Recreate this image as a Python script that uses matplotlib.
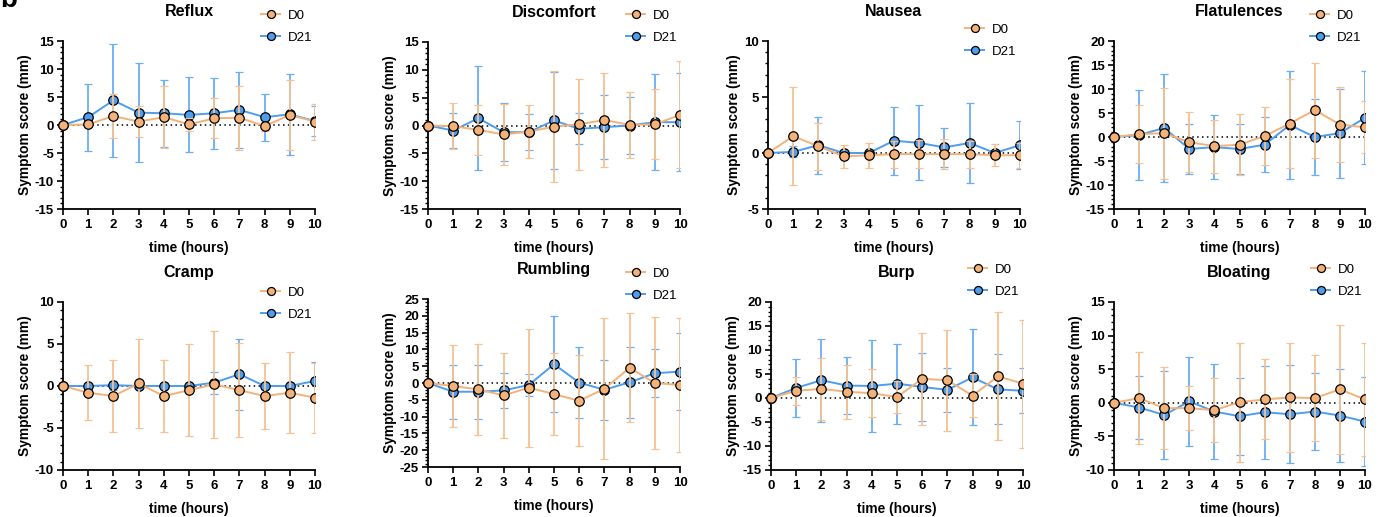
import matplotlib
matplotlib.use("Agg")
import matplotlib.pyplot as plt
from matplotlib.patches import Rectangle
from matplotlib.ticker import MultipleLocator

plt.rcParams['font.family'] = ['Liberation Sans', 'DejaVu Sans']
plt.rcParams['axes.unicode_minus'] = False

# =========================
# DATA (mean and SD per hour)
# =========================

hours = [0, 1, 2, 3, 4, 5, 6, 7, 8, 9, 10]

reflux_d0 = [0, 0.1, 1.6, 0.6, 1.4, 0.1, 1.2, 1.3, -0.2, 1.8, 0.6]
reflux_d0_sd = [0, 0.4, 3.9, 2.75, 5.5, 1.1, 3.6, 5.7, 0.8, 6.2, 3.2]
reflux_d21 = [0, 1.4, 4.4, 2.2, 2.1, 1.8, 2.1, 2.7, 1.4, 1.9, 0.7]
reflux_d21_sd = [0, 6.0, 10.1, 8.8, 6.0, 6.7, 6.3, 6.8, 4.2, 7.2, 2.7]

discomfort_d0 = [0, -0.1, -0.8, -1.6, -1.1, -0.2, 0.2, 1.0, 0.1, 0.2, 1.9]
discomfort_d0_sd = [0, 4.1, 4.5, 5.5, 4.8, 10.0, 8.2, 8.4, 6.0, 6.3, 9.6]
discomfort_d21 = [0, -0.9, 1.3, -1.2, -1.2, 0.9, -0.6, -0.3, 0, 0.6, 0.6]
discomfort_d21_sd = [0, 3.2, 9.3, 5.2, 3.2, 8.8, 2.8, 5.7, 5.2, 8.6, 8.8]

nausea_d0 = [0, 1.5, 0.6, -0.3, -0.2, -0.1, -0.1, -0.1, -0.1, -0.2, -0.2]
nausea_d0_sd = [0, 4.4, 2.1, 1.0, 1.1, 1.2, 1.25, 1.35, 1.2, 1.0, 1.1]
nausea_d21 = [0, 0.1, 0.7, 0, 0, 1.1, 0.9, 0.5, 0.9, 0, 0.7]
nausea_d21_sd = [0, 0.5, 2.55, 0, 0, 3.05, 3.35, 1.75, 3.6, 0, 2.15]

flatulences_d0 = [0, 0.6, 0.8, -1.1, -1.9, -1.6, 0.2, 2.8, 5.6, 2.6, 2.0]
flatulences_d0_sd = [0, 6.0, 9.45, 6.25, 5.5, 6.4, 6.1, 9.2, 9.9, 7.9, 5.4]
flatulences_d21 = [0, 0.4, 1.9, -2.5, -2.1, -2.5, -1.6, 2.5, 0, 0.8, 4.0]
flatulences_d21_sd = [0, 9.45, 11.2, 5.3, 6.7, 5.3, 5.75, 11.2, 7.85, 9.25, 9.7]

cramp_d0 = [0, -0.8, -1.2, 0.3, -1.2, -0.5, 0.2, -0.5, -1.2, -0.8, -1.4]
cramp_d0_sd = [0, 3.3, 4.25, 5.35, 4.25, 5.5, 6.35, 5.6, 3.9, 4.8, 4.15]
cramp_d21 = [0, 0, 0.1, 0, 0, 0, 0.4, 1.4, 0, 0, 0.6]
cramp_d21_sd = [0, 0, 0.55, 0, 0, 0, 1.3, 4.2, 0, 0, 2.3]

rumbling_d0 = [0, -0.9, -1.9, -3.7, -1.4, -3.3, -5.3, -1.7, 4.5, 0, -0.6]
rumbling_d0_sd = [0, 12.2, 13.5, 12.75, 17.6, 12.1, 13.55, 21.0, 16.2, 19.5, 19.9]
rumbling_d21 = [0, -2.6, -2.6, -2.2, -0.6, 5.6, 0.1, -2.0, 0.2, 2.9, 3.4]
rumbling_d21_sd = [0, 8.1, 8.1, 5.3, 3.15, 14.3, 10.65, 8.95, 10.5, 7.2, 11.55]

burp_d0 = [0, 1.5, 1.9, 1.3, 1.0, 0.2, 4.0, 3.7, 0.5, 4.5, 3.0]
burp_d0_sd = [0, 2.95, 6.5, 5.6, 5.0, 3.3, 9.55, 10.5, 4.45, 13.35, 13.35]
burp_d21 = [0, 2.1, 3.7, 2.6, 2.5, 3.0, 2.3, 1.7, 4.3, 1.8, 1.5]
burp_d21_sd = [0, 6.05, 8.6, 5.9, 9.5, 8.35, 7.05, 4.65, 10.0, 7.3, 4.65]

bloating_d0 = [0, 0.7, -0.8, -0.8, -1.1, 0.1, 0.5, 0.8, 0.7, 2.0, 0.5]
bloating_d0_sd = [0, 6.8, 6.1, 3.25, 4.8, 8.85, 5.95, 8.15, 6.45, 9.6, 8.45]
bloating_d21 = [0, -0.7, -1.8, 0.2, -1.3, -2.0, -1.4, -1.7, -1.3, -1.9, -2.8]
bloating_d21_sd = [0, 4.75, 6.55, 6.65, 7.1, 5.7, 6.9, 7.3, 5.7, 6.95, 6.65]

titles = ["Reflux", "Discomfort", "Nausea", "Flatulences",
          "Cramp", "Rumbling", "Burp", "Bloating"]
d0_means = [reflux_d0, discomfort_d0, nausea_d0, flatulences_d0,
            cramp_d0, rumbling_d0, burp_d0, bloating_d0]
d0_sds = [reflux_d0_sd, discomfort_d0_sd, nausea_d0_sd, flatulences_d0_sd,
          cramp_d0_sd, rumbling_d0_sd, burp_d0_sd, bloating_d0_sd]
d21_means = [reflux_d21, discomfort_d21, nausea_d21, flatulences_d21,
             cramp_d21, rumbling_d21, burp_d21, bloating_d21]
d21_sds = [reflux_d21_sd, discomfort_d21_sd, nausea_d21_sd, flatulences_d21_sd,
           cramp_d21_sd, rumbling_d21_sd, burp_d21_sd, bloating_d21_sd]
y_limits = [(-15, 15), (-15, 15), (-5, 10), (-15, 20),
            (-10, 10), (-25, 25), (-15, 20), (-10, 15)]

# =========================
# LAYOUT (pixels in a 1386x517 figure)
# =========================

W, H = 1386, 517
# left, right, top, bottom of each axes box
boxes = [(63, 315, 41, 209), (428, 680, 42, 209), (768, 1020, 41, 209), (1114, 1365, 41, 209),
         (63, 315, 302, 470), (428, 680, 299, 467), (771, 1023, 302, 470), (1114, 1365, 302, 470)]
# legend anchor (left x, top y) in pixels
legend_pos = [(258, 7), (623, 7), (962, 21), (1307, 7),
              (258, 284), (623, 265), (965, 261), (1308, 261)]

orange = "#F3B27A"
orange_err = "#F6C293"
blue = "#4E9DEE"
blue_err = "#6BAEF3"

fig = plt.figure(figsize=(W / 100, H / 100), dpi=100)

for i in range(8):
    l, r, t, b = boxes[i]
    ax = fig.add_axes([l / W, 1 - b / H, (r - l) / W, (b - t) / H])

    clip = Rectangle((-0.08, -0.02), 1.08, 1.04, transform=ax.transAxes)

    ax.axhline(0, color="black", linestyle=(0, (1, 2.2)), linewidth=1.1, zorder=1)

    handles = []
    for means, sds, col, ecol, lab, z in [(d21_means[i], d21_sds[i], blue, blue_err, "D21", 3),
                                          (d0_means[i], d0_sds[i], orange, orange_err, "D0", 4)]:
        eb = ax.errorbar(hours, means, yerr=sds, color=col, ecolor=ecol,
                         elinewidth=1.3, capsize=2.8, capthick=1.3, linewidth=1.4,
                         marker="o", markersize=6.8, markerfacecolor=col,
                         markeredgecolor="black", markeredgewidth=0.9,
                         zorder=z, label=lab)
        for art in [eb[0]] + list(eb[1]) + list(eb[2]):
            art.set_clip_path(clip)
        handles.append(eb[0])

    ax.set_xlim(0, 10)
    ax.set_ylim(*y_limits[i])
    ax.xaxis.set_major_locator(MultipleLocator(1))
    ax.yaxis.set_major_locator(MultipleLocator(5))
    ax.yaxis.set_minor_locator(MultipleLocator(1))

    for side in ["top", "right"]:
        ax.spines[side].set_visible(False)
    for side in ["left", "bottom"]:
        ax.spines[side].set_linewidth(1.3)

    ax.tick_params(axis="both", which="major", direction="out", length=4.5, width=1.2,
                   labelsize=9.5, pad=2)
    ax.tick_params(axis="x", which="major", pad=3)
    ax.tick_params(axis="y", which="minor", direction="out", length=2.5, width=1.0)
    for lbl in ax.get_xticklabels() + ax.get_yticklabels():
        lbl.set_fontweight("bold")

    ax.set_xlabel("time (hours)", fontsize=9.9, fontweight="bold", labelpad=7)
    ax.set_ylabel("Symptom score (mm)", fontsize=9.9, fontweight="bold", labelpad=2)
    ax.set_title(titles[i], fontsize=11.5, fontweight="bold", pad=18)

    lx, ly = legend_pos[i]
    ax.legend(handles[::-1], ["D0", "D21"], loc="upper left",
              bbox_to_anchor=(lx / W, 1 - ly / H), bbox_transform=fig.transFigure,
              frameon=False, fontsize=9.5, handlelength=1.5, handletextpad=0.6,
              labelspacing=0.75, borderaxespad=0, borderpad=0.2, markerscale=0.85)

fig.text(0.0, 1 - 7 / H, "b", fontsize=20, fontweight="bold", va="baseline", ha="left")

fig.savefig("out.png", dpi=100)
